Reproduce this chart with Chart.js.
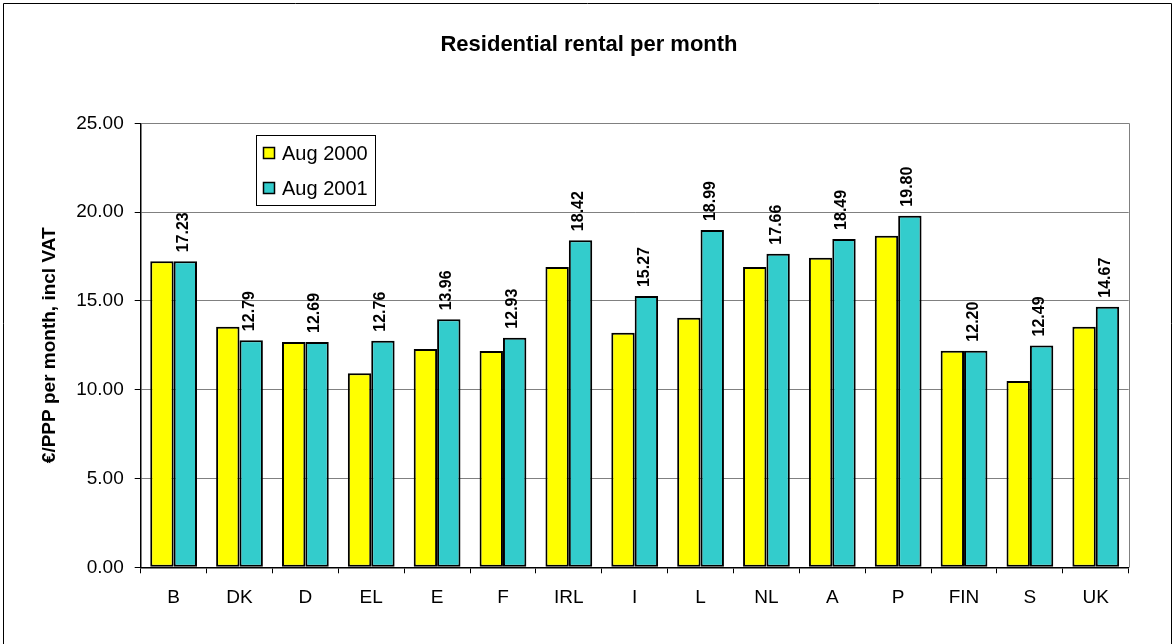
<!DOCTYPE html>
<html>
<head>
<meta charset="utf-8">
<script src="https://cdn.jsdelivr.net/npm/chart.js@4/dist/chart.umd.min.js"></script>
<style>
  html, body { margin: 0; padding: 0; background: #fff; }
  #wrap { width: 1175px; height: 644px; position: relative; }
</style>
</head>
<body>
<div id="wrap"><canvas id="c" width="1175" height="644"></canvas></div>
<script>
const titleText = 'Residential rental per month';
const yAxisTitle = '€/PPP per month, incl VAT';
const categories = ['B', 'DK', 'D', 'EL', 'E', 'F', 'IRL', 'I', 'L', 'NL', 'A', 'P', 'FIN', 'S', 'UK'];
const seriesNames = ['Aug 2000', 'Aug 2001'];
const aug2000 = [17.23, 13.55, 12.69, 10.92, 12.29, 12.18, 16.91, 13.21, 14.05, 16.91, 17.43, 18.67, 12.20, 10.49, 13.55];
const aug2001 = [17.23, 12.79, 12.69, 12.76, 13.96, 12.93, 18.42, 15.27, 18.99, 17.66, 18.49, 19.80, 12.20, 12.49, 14.67];
const yTicks = [0, 5, 10, 15, 20, 25];

const FONT = "'Liberation Sans', Arial, Helvetica, sans-serif";

const framePlugin = {
  id: 'frame',
  beforeDraw(chart) {
    const ctx = chart.ctx;
    ctx.save();
    ctx.fillStyle = '#fff';
    ctx.fillRect(0, 0, chart.width, chart.height);
    ctx.strokeStyle = '#000';
    ctx.lineWidth = 1;
    ctx.beginPath();
    ctx.moveTo(3.5, 644);
    ctx.lineTo(3.5, 3.5);
    ctx.lineTo(1171.5, 3.5);
    ctx.lineTo(1171.5, 644);
    ctx.stroke();
    // chart title
    ctx.fillStyle = '#000';
    ctx.font = 'bold 22px ' + FONT;
    ctx.textAlign = 'center';
    ctx.textBaseline = 'middle';
    ctx.fillText(titleText, 589, 45);
    ctx.restore();
  },
  beforeDatasetsDraw(chart) {
    const {ctx, chartArea: a} = chart;
    ctx.save();
    ctx.strokeStyle = '#808080';
    ctx.lineWidth = 1;
    ctx.beginPath();
    ctx.moveTo(Math.round(a.left) + 0.5, Math.round(a.top) + 0.5);
    ctx.lineTo(Math.round(a.right) + 0.5, Math.round(a.top) + 0.5);
    ctx.lineTo(Math.round(a.right) + 0.5, Math.round(a.bottom) + 0.5);
    ctx.stroke();
    ctx.restore();
  },
  afterDatasetsDraw(chart) {
    const ctx = chart.ctx;
    const meta = chart.getDatasetMeta(1);
    const data = chart.data.datasets[1].data;
    ctx.save();
    ctx.fillStyle = '#000';
    ctx.font = 'bold 16px ' + FONT;
    ctx.textAlign = 'left';
    ctx.textBaseline = 'middle';
    meta.data.forEach((bar, i) => {
      ctx.save();
      ctx.translate(bar.x - 2, bar.y - 9);
      ctx.rotate(-Math.PI / 2);
      ctx.fillText(Number(data[i]).toFixed(2), 0, 0);
      ctx.restore();
    });
    ctx.restore();
  },
  afterDraw(chart) {
    // legend box
    const ctx = chart.ctx;
    ctx.save();
    const bx = 256.5, by = 135.5, bw = 119, bh = 70;
    ctx.fillStyle = '#fff';
    ctx.fillRect(bx, by, bw, bh);
    ctx.strokeStyle = '#000';
    ctx.lineWidth = 1;
    ctx.strokeRect(bx, by, bw, bh);
    ctx.font = '20px ' + FONT;
    ctx.textAlign = 'left';
    ctx.textBaseline = 'middle';
    const rows = [153, 188];
    chart.data.datasets.forEach((ds, i) => {
      const cy = rows[i];
      ctx.fillStyle = ds.backgroundColor;
      ctx.fillRect(263.5, cy - 5.5, 11, 11);
      ctx.strokeStyle = '#000';
      ctx.lineWidth = 1.5;
      ctx.strokeRect(263.5, cy - 5.5, 11, 11);
      ctx.fillStyle = '#000';
      ctx.fillText(ds.label, 282, cy + 1);
    });
    ctx.restore();
  }
};

new Chart(document.getElementById('c'), {
  type: 'bar',
  data: {
    labels: categories,
    datasets: [
      { label: seriesNames[0], data: aug2000, backgroundColor: '#FFFF00', borderColor: '#000', borderWidth: 2, borderSkipped: false },
      { label: seriesNames[1], data: aug2001, backgroundColor: '#33CCCC', borderColor: '#000', borderWidth: 2, borderSkipped: false }
    ]
  },
  options: {
    responsive: false,
    animation: false,
    devicePixelRatio: 1,
    layout: { padding: { left: 0, right: 46.3, top: 123.3, bottom: 16.7 } },
    plugins: { legend: { display: false }, title: { display: false }, tooltip: { enabled: false } },
    datasets: { bar: { categoryPercentage: 0.71, barPercentage: 1.0 } },
    scales: {
      x: {
        afterFit(s) { s.height = 60; },
        grid: { display: true, drawOnChartArea: false, drawTicks: true, tickLength: 6, tickColor: '#000', offset: true },
        border: { display: true, color: '#000', width: 1.5 },
        ticks: { color: '#000', font: { family: FONT, size: 19 }, padding: 13, maxRotation: 0, autoSkip: false }
      },
      y: {
        min: 0, max: 25,
        afterFit(s) { s.width = 140.7; },
        afterBuildTicks(s) { s.ticks = yTicks.map(v => ({ value: v })); },
        grid: { color: '#808080', lineWidth: 1, drawTicks: true, tickLength: 6, tickColor: '#000' },
        border: { display: true, color: '#000', width: 1.5 },
        ticks: { color: '#000', font: { family: FONT, size: 19 }, padding: 11, callback: v => Number(v).toFixed(2) },
        title: { display: true, text: yAxisTitle, color: '#000', font: { family: FONT, size: 19, weight: 'bold' }, padding: { top: 38, bottom: 0 } }
      }
    }
  },
  plugins: [framePlugin]
});
</script>
</body>
</html>
